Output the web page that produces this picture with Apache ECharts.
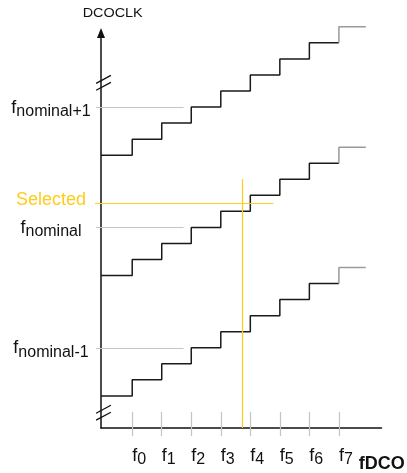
<!DOCTYPE html>
<html>
<head>
<meta charset="utf-8">
<script src="https://cdn.jsdelivr.net/npm/echarts@6/dist/echarts.min.js"></script>
<style>
  html, body { margin: 0; padding: 0; background: #fff; }
  #chart { width: 407px; height: 473px; }
</style>
</head>
<body>
<div id="chart"></div>
<script>
// DCO frequency steps f0..f7 (subscripts) and their positions on the fDCO axis
const freqSubs = ['0', '1', '2', '3', '4', '5', '6', '7'];
const freqTicks = [0, 1, 2, 3, 4, 5, 6, 7];

// Staircase borders: y-axis, f0 ... f7, end of last step
const stairX = [-1.057, 0, 1, 2, 3, 4, 5, 6, 7, 7.91];

// DCOCLK level of each step for the three RSEL ranges
const stairLow  = [2, 3, 4, 5, 6, 7, 8, 9, 10];
const stairMid  = [9.5, 10.5, 11.5, 12.5, 13.5, 14.5, 15.5, 16.5, 17.5];
const stairHigh = [17, 18, 19, 20, 21, 22, 23, 24, 25];

// Nominal frequency levels and their names
const nominalLevels = [5, 12.5, 20];
const nominalNames = ['nominal-1', 'nominal', 'nominal+1'];
const nominalLineX = [-1.223, 1.74];

// Selected frequency
const selectedLevel = 14;
const selectedFreq = 3.74;
const selectedLineX = [-1.257, 4.78];
const selectedTopY = 15.51;

// Axis break marks (two parallel slashes each)
const breakTop = [[[-1.223, 21.48], [-0.723, 21.97]], [[-1.223, 21.05], [-0.723, 21.54]]];
const breakBottom = [[[-1.223, 0.92], [-0.723, 1.42]], [[-1.223, 0.49], [-0.723, 0.98]]];

const xMin = -1.057, xMax = 8.443, yMin = 0, yMax = 24.615;
const FONT = '"Liberation Sans", Arial, sans-serif';
const INK = '#111';
const GOLD = '#FFCC1A';

function stairMain(levels) {
  const pts = [];
  for (let i = 0; i < 8; i++) pts.push([stairX[i], levels[i]]);
  pts.push([stairX[8], levels[7]]);
  return pts;
}
function stairTail(levels) {
  return [[stairX[8], levels[7]], [stairX[8], levels[8]], [stairX[9], levels[8]]];
}

const subRich = {
  f: { fontSize: 18, lineHeight: 21, verticalAlign: 'top', color: INK, fontFamily: FONT },
  s: { fontSize: 16, lineHeight: 21, verticalAlign: 'bottom', color: INK, fontFamily: FONT },
  sel: { fontSize: 18, lineHeight: 28, verticalAlign: 'top', color: GOLD, fontFamily: FONT }
};

const series = [];
[stairLow, stairMid, stairHigh].forEach(levels => {
  series.push({
    type: 'line', step: 'end', data: stairMain(levels), symbol: 'none', clip: false,
    lineStyle: { color: '#1a1a1a', width: 1.5 }, z: 3
  });
  series.push({
    type: 'line', data: stairTail(levels), symbol: 'none', clip: false,
    lineStyle: { color: '#9a9a9a', width: 1.5 }, z: 3
  });
});

series.push({
  type: 'lines', coordinateSystem: 'cartesian2d', clip: false, z: 2,
  lineStyle: { color: '#c4c4c4', width: 1, opacity: 1 },
  data: nominalLevels.map(v => ({ coords: [[nominalLineX[0], v], [nominalLineX[1], v]] }))
});

series.push({
  type: 'lines', coordinateSystem: 'cartesian2d', clip: false, z: 4,
  lineStyle: { color: GOLD, width: 1.2, opacity: 1 },
  data: [
    { coords: [[selectedLineX[0], selectedLevel], [selectedLineX[1], selectedLevel]] },
    { coords: [[selectedFreq, yMin], [selectedFreq, selectedTopY]] }
  ]
});

series.push({
  type: 'lines', coordinateSystem: 'cartesian2d', clip: false, z: 5,
  lineStyle: { color: INK, width: 1.3, opacity: 1 },
  data: breakTop.concat(breakBottom).map(c => ({ coords: c }))
});

const option = {
  animation: false,
  backgroundColor: '#fff',
  grid: { left: 101, top: 33, width: 285, height: 400 },
  graphic: [{
    type: 'text', x: 112.7, y: 13.5, scaleX: 1.2,
    style: {
      text: 'DCOCLK', font: '12px ' + FONT, fill: INK,
      align: 'center', verticalAlign: 'middle', textAlign: 'center', textVerticalAlign: 'middle'
    }
  }],
  xAxis: [{
    type: 'value', min: xMin, max: xMax,
    axisLine: { onZero: false, lineStyle: { color: INK, width: 1.5 } },
    axisTick: { show: false },
    splitLine: { show: false },
    axisLabel: {
      customValues: freqTicks, align: 'left', margin: 19,
      formatter: v => '{f|f}{s|' + freqSubs[Math.round(v)] + '}',
      rich: subRich
    },
    name: 'fDCO', nameLocation: 'end', nameGap: -28,
    nameTextStyle: {
      fontFamily: FONT, fontWeight: 'bold', fontSize: 18, color: INK,
      align: 'left', verticalAlign: 'top', padding: [27, 0, 0, 0]
    }
  }, {
    type: 'value', min: xMin, max: xMax, position: 'bottom', offset: 8,
    axisLine: { show: false, onZero: false },
    axisTick: { customValues: freqTicks, inside: true, length: 24, lineStyle: { color: '#c4c4c4', width: 1.2 } },
    axisLabel: { show: false },
    splitLine: { show: false }
  }],
  yAxis: {
    type: 'value', min: yMin, max: yMax,
    axisLine: { onZero: false, symbol: ['none', 'triangle'], symbolSize: [8, 10], lineStyle: { color: INK, width: 1.5 } },
    axisTick: { show: false },
    splitLine: { show: false },
    axisLabel: {
      customValues: nominalLevels.concat([selectedLevel]), align: 'center', margin: 50,
      padding: [4, 0, 0, 0],
      formatter: v => v === selectedLevel ? '{sel|Selected}'
        : '{f|f}{s|' + nominalNames[nominalLevels.indexOf(v)] + '}',
      rich: subRich
    }
  },
  series: series
};

const chart = echarts.init(document.getElementById('chart'), null, { renderer: 'canvas' });
chart.setOption(option);
</script>
</body>
</html>
